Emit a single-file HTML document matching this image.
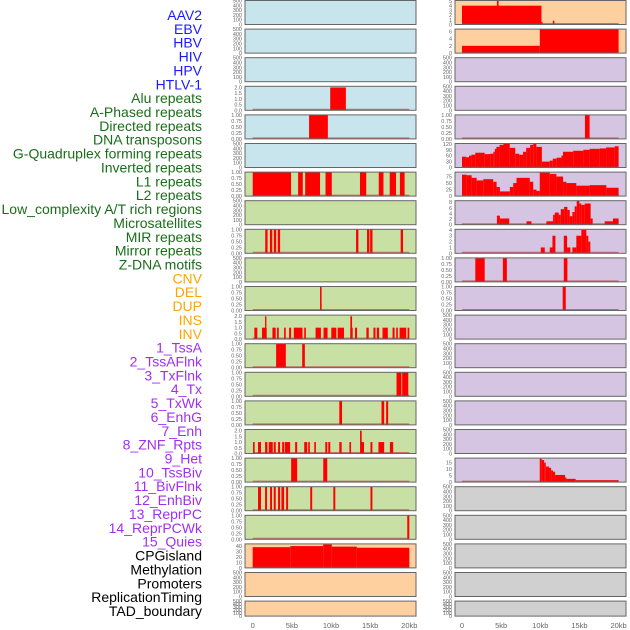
<!DOCTYPE html>
<html><head><meta charset="utf-8">
<style>
body{margin:0;background:#fff;width:630px;height:630px;overflow:hidden;}
svg{display:block;font-family:"Liberation Sans",sans-serif;}
</style></head>
<body>
<svg id="chart" width="630" height="630" viewBox="0 0 630 630" xmlns="http://www.w3.org/2000/svg"></svg>
<script>
const labels=["AAV2","EBV","HBV","HIV","HPV","HTLV-1","Alu repeats","A-Phased repeats","Directed repeats","DNA transposons","G-Quadruplex forming repeats","Inverted repeats","L1 repeats","L2 repeats","Low_complexity A/T rich regions","Microsatellites","MIR repeats","Mirror repeats","Z-DNA motifs","CNV","DEL","DUP","INS","INV","1_TssA","2_TssAFlnk","3_TxFlnk","4_Tx","5_TxWk","6_EnhG","7_Enh","8_ZNF_Rpts","9_Het","10_TssBiv","11_BivFlnk","12_EnhBiv","13_ReprPC","14_ReprPCWk","15_Quies","CPGisland","Methylation","Promoters","ReplicationTiming","TAD_boundary"];
const labelColors=["#1a1aff","#1a1aff","#1a1aff","#1a1aff","#1a1aff","#1a1aff","#1a6e1a","#1a6e1a","#1a6e1a","#1a6e1a","#1a6e1a","#1a6e1a","#1a6e1a","#1a6e1a","#1a6e1a","#1a6e1a","#1a6e1a","#1a6e1a","#1a6e1a","#ffa500","#ffa500","#ffa500","#ffa500","#ffa500","#a030f0","#a030f0","#a030f0","#a030f0","#a030f0","#a030f0","#a030f0","#a030f0","#a030f0","#a030f0","#a030f0","#a030f0","#a030f0","#a030f0","#a030f0","#000","#000","#000","#000","#000"];
const xTicks=[0,5,10,15,20];
const xTickLabels=["0","5kb","10kb","15kb","20kb"];
// Panel y-axis types: max value and ticks
const T500={max:500,ticks:[0,100,200,300,400,500],fmt:0};
const T1={max:1,ticks:[0,0.25,0.5,0.75,1],fmt:2};
const T2={max:2.1,ticks:[0,0.5,1,1.5,2],fmt:1};
// Left column: background + bars [startKb,endKb,value]
const leftBg=["#c8e4ec","#c8e4ec","#c8e4ec","#c8e4ec","#c8e4ec","#c8e4ec","#c8e0a4","#c8e0a4","#c8e0a4","#c8e0a4","#c8e0a4","#c8e0a4","#c8e0a4","#c8e0a4","#c8e0a4","#c8e0a4","#c8e0a4","#c8e0a4","#c8e0a4","#ffd09f","#ffd09f","#ffd09f"];
const leftAxis=[T500,T500,T500,T2,T1,T500,T1,T500,T1,T500,T1,T2,T1,T1,T1,T2,T1,T1,T1,{max:44,ticks:[0,10,20,30,40],fmt:0},T500,T500];
const leftBars=[
 [],[],[],
 [[9.9,11.9,2]],
 [[7.2,9.6,1]],
 [],
 [[0,4.9,1],[5.8,6.4,1],[6.7,8.6,1],[9.3,10.1,1],[13.7,14.5,1],[16.1,16.7,1],[17.5,18.3,1],[18.8,19.4,1]],
 [],
 [[1.6,1.9,1],[2.2,2.5,1],[2.7,3.0,1],[3.2,3.5,1],[13.2,13.5,1],[14.6,14.9,1],[15.0,15.3,1],[18.9,19.2,1]],
 [],
 [[8.6,8.8,1]],
 [[0.21,0.59,1],[1.19,1.79,1],[1.58,1.75,2],[2.52,2.94,1],[3.11,3.33,1],[4.01,4.22,1],[4.65,4.91,1],[5.25,6.36,1],[6.58,6.79,1],[8.03,8.71,1],[9.05,9.56,1],[10.04,10.68,1],[10.85,11.66,1],[12.47,12.77,1],[12.47,12.69,2],[13.07,13.33,1],[14.52,14.82,1],[15.42,15.68,1],[15.85,16.15,1],[16.58,17.26,1],[17.86,18.12,1],[18.33,18.54,1],[18.76,19.61,1],[19.78,20.0,1]],
 [[2.99,4.23,1],[6.32,6.66,1]],
 [[18.37,19.0,1],[19.09,19.87,1]],
 [[11.06,11.41,1],[16.45,16.79,1],[17.04,17.3,1]],
 [[0.04,0.25,1],[0.68,1.06,1],[1.58,1.88,1],[2.05,2.56,1],[2.69,2.94,1],[3.24,3.5,1],[3.76,4.01,1],[4.1,4.78,1],[5.42,5.68,1],[6.58,6.96,1],[7.09,7.3,1],[7.86,8.07,1],[9.27,9.52,1],[9.65,9.91,1],[11.06,11.36,1],[12.35,12.56,1],[13.71,13.92,2],[13.88,14.22,1],[15.04,15.29,1],[16.06,16.79,1],[17.52,17.94,1]],
 [[4.91,5.68,1],[9.01,9.52,1]],
 [[0.68,1.06,1],[1.58,1.83,1],[2.22,2.47,1],[2.69,2.94,1],[3.24,3.5,1],[3.67,4.01,1],[4.27,4.52,1],[7.35,7.6,1],[10.3,10.55,1],[15.04,15.29,1]],
 [[19.74,20.0,1]],
 [[0,4.8,38],[4.8,9,40],[9,10.1,43],[10.1,13.3,39],[13.3,20,37]],
 [],[]
];
const rightBg=["#ffd09f","#ffd09f","#d5c5e2","#d5c5e2","#d5c5e2","#d5c5e2","#d5c5e2","#d5c5e2","#d5c5e2","#d5c5e2","#d5c5e2","#d5c5e2","#d5c5e2","#d5c5e2","#d5c5e2","#d5c5e2","#d5c5e2","#d0d0d0","#d0d0d0","#d0d0d0","#d0d0d0","#d0d0d0"];
const rightAxis=[{max:5.1,ticks:[0,1,2,3,4,5],fmt:0},{max:6.6,ticks:[0,2,4,6],fmt:0},T500,T500,T1,{max:122,ticks:[0,30,60,90,120],fmt:0},{max:92,ticks:[0,25,50,75],fmt:0},{max:8.5,ticks:[0,2,4,6,8],fmt:0},{max:4.1,ticks:[0,1,2,3,4],fmt:0},T1,T1,T500,T500,T500,T500,T500,{max:18.5,ticks:[0,5,10,15],fmt:0},T500,T500,T500,T500,T500];
const gquadEdges=[0,0.5,0.9,1.2,1.7,2.9,3.6,4.0,4.2,4.4,4.8,5.3,6.1,6.8,7.3,7.8,8.2,8.7,9.1,9.5,10.2,11.2,11.6,12.1,12.7,12.9,14.2,15.5,16.3,17.6,18.4,19.5,20];
const gquadValues=[55,52,60,65,75,68,70,80,95,105,115,120,100,70,65,80,100,115,120,105,30,35,45,50,60,80,85,90,95,97,102,108];
const l1Edges=[0,0.6,1.23,1.87,2.72,3.99,4.42,4.84,6.11,6.54,6.96,8.66,9.09,9.51,9.93,11.21,12.06,12.91,13.33,14.6,16.3,18.43,20];
const l1Values=[82,80,70,60,65,55,35,18,35,50,70,55,25,20,90,85,75,55,50,40,42,32];
const hetEdges=[9.93,10.19,10.49,10.7,11.12,11.38,11.63,11.89,13.16,13.33,14.52,20];
const hetValues=[18,17,15,12,11,9,8,5.5,3.5,2.5,1.5];
function steps(edges,vals){return vals.map((v,i)=>[edges[i],edges[i+1],v]);}
const rightBars=[
 [[0,10.15,4],[4.46,4.67,5],[10.15,10.3,0.5],[11.6,11.8,0.8]],
 [[0,9.94,2],[9.94,20,6.5]],
 [],[],
 [[15.7,16.3,1]],
 steps(gquadEdges,gquadValues),
 steps(l1Edges,l1Values),
 [[4.46,4.84,3.2],[4.84,6.03,2.2],[8.24,8.87,1.2],[10.78,11.63,1.2],[11.63,11.85,3.5],[11.85,12.36,4.3],[12.36,12.61,3.5],[12.61,13.04,5.5],[13.04,13.46,6.3],[13.46,13.76,5.2],[13.76,14.1,3],[14.1,14.39,4.5],[14.39,14.65,6.5],[14.65,14.99,8.5],[14.99,15.24,7.5],[15.24,15.67,7],[15.67,16.43,7.5],[16.43,16.69,2.2],[18.22,19.28,1.2],[19.28,20,2.2]],
 [[10.06,10.57,1],[11.21,11.55,1],[11.55,11.93,3],[13.0,13.42,3],[13.42,13.84,1],[14.1,14.6,1],[14.6,15.24,3],[15.24,15.88,4],[15.88,16.13,3],[16.13,16.39,2]],
 [[1.7,2.9,1],[5.22,5.73,1],[13.0,13.46,1]],
 [[12.86,13.25,1]],
 [],[],[],[],[],
 steps(hetEdges,hetValues),
 [],[],[],[],[]
];
const NS="http://www.w3.org/2000/svg";
const svg=document.getElementById('chart');
function mk(tag,attrs,parent){const e=document.createElementNS(NS,tag);for(const k in attrs)e.setAttribute(k,attrs[k]);(parent||svg).appendChild(e);return e;}
// labels
labels.forEach((t,i)=>{
 const e=mk('text',{x:202,y:20+i*13.86,'text-anchor':'end','font-size':14,fill:labelColors[i]});
 e.textContent=t;
 
 
});
function rowTop(i){return 0.5+i*28.6;}
function rowH(i){return i===21?15:24;}
function drawPanel(col,i,bg,axis,bars){
 const px=col===0?245:455, pw=171;
 const x0=col===0?252.7:462, kbPx=7.83;
 const xs=kb=>x0+kb*kbPx;
 const top=rowTop(i), h=rowH(i), bottom=top+h;
 const ys=v=>bottom-v/axis.max*h;
 const g=mk('g',{});
 
 
 mk('rect',{x:px,y:top,width:pw,height:h,fill:bg},g);
 bars.forEach(b=>{
  const r=mk('rect',{x:xs(b[0]),y:ys(b[2]),width:Math.max(xs(b[1])-xs(b[0]),1),height:bottom-ys(b[2]),fill:'#ff0000'},g);
  
  
 });
 if(bars.length){mk('line',{x1:xs(0),x2:xs(20),y1:bottom-0.8,y2:bottom-0.8,stroke:'#b03030','stroke-opacity':0.6,'stroke-width':1.4},g);}
 mk('rect',{x:px,y:top,width:pw,height:h,fill:'none',stroke:'#666','stroke-width':1},g);
 axis.ticks.forEach(t=>{
  const e=mk('text',{x:px-3,y:ys(t)+2,'text-anchor':'end','font-size':5.5,fill:'#666'},g);
  e.textContent=t.toFixed(axis.fmt);
  
  
 });
}
for(let i=0;i<22;i++){drawPanel(0,i,leftBg[i],leftAxis[i],leftBars[i]);drawPanel(1,i,rightBg[i],rightAxis[i],rightBars[i]);}
[252.7,462].forEach((x0,c)=>{
 xTicks.forEach((t,j)=>{
  const e=mk('text',{x:x0+t*7.83,y:628,'text-anchor':'middle','font-size':7.5,fill:'#666'});
  e.textContent=xTickLabels[j];
  
  
 });
});
</script>
</body></html>
